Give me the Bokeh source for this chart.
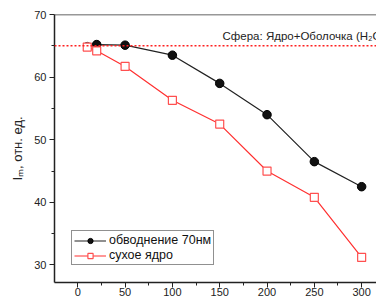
from bokeh.plotting import figure
from bokeh.models import Range1d, Span, Legend, LegendItem, FixedTicker
from bokeh.core.properties import value
from bokeh.embed import file_html
from bokeh.resources import INLINE

# data
x_wet = [10, 20, 50, 100, 150, 200, 250, 300]
y_wet = [65.0, 65.2, 65.1, 63.5, 59.0, 54.0, 46.5, 42.5]
x_dry = [10, 20, 50, 100, 150, 200, 250, 300]
y_dry = [64.8, 64.2, 61.7, 56.3, 52.5, 45.0, 40.8, 31.2]
ref_level = 65.0
label_wet = "обводнение 70нм"
label_dry = "сухое ядро"
note_text = "Сфера: Ядро+Оболочка (H\u2082O)"
x_ticks = [0, 50, 100, 150, 200, 250, 300]
y_ticks = [30, 40, 50, 60, 70]

FONT = "Liberation Sans"

p = figure(width=376, height=300, output_backend="svg", toolbar_location=None,
           x_range=Range1d(-24.6, 315.7), y_range=Range1d(27.2, 70),
           min_border_left=54, min_border_right=0, min_border_top=14, min_border_bottom=18)
p.outline_line_color = None
p.xgrid.visible = False
p.ygrid.visible = False
p.background_fill_color = "white"

# top border line
top = Span(location=70, dimension="width", line_color="#333333", line_width=1.5)
p.add_layout(top)

# dashed reference line
ref = Span(location=ref_level, dimension="width", line_color="#ff2020", line_width=1.5, line_dash="2 2")
p.add_layout(ref)

l1 = p.line(x_wet, y_wet, line_color="#222222", line_width=1.2)
c1 = p.scatter(x_wet[1:], y_wet[1:], size=8.5, marker="circle", fill_color="#111111", line_color="#000000")
c1b = p.scatter([x_wet[0]], [y_wet[0]], size=7, marker="circle", fill_color="#555555", line_color="#444444", fill_alpha=0.6)
l2 = p.line(x_dry, y_dry, line_color="#ff3030", line_width=1.2)
s2 = p.scatter(x_dry, y_dry, size=8, marker="square", fill_color="white", line_color="#ff5050", line_width=1.2)

p.text([153], [66.5], text=[note_text], text_font=value(FONT), text_font_size="11.5px",
       text_color="#222222", text_baseline="middle", text_align="left")

for ax in (p.xaxis[0], p.yaxis[0]):
    ax.axis_line_color = "#222222"
    ax.axis_line_width = 1.5
    ax.major_tick_line_color = "#222222"
    ax.minor_tick_line_color = "#222222"
    ax.major_tick_in = 0
    ax.major_tick_out = 5
    ax.minor_tick_in = 0
    ax.minor_tick_out = 3
    ax.major_label_text_font = FONT
    ax.major_label_text_font_size = "11px"
    ax.major_label_text_color = "#222222"

p.xaxis[0].ticker = FixedTicker(ticks=x_ticks, minor_ticks=[25, 75, 125, 175, 225, 275])
p.yaxis[0].ticker = FixedTicker(ticks=y_ticks, minor_ticks=[35, 45, 55, 65])
p.xaxis[0].major_label_standoff = 0
p.yaxis[0].major_label_standoff = 3
p.yaxis[0].axis_label = "I\u2098, отн. ед."
p.yaxis[0].axis_label_text_font = FONT
p.yaxis[0].axis_label_text_font_size = "13px"
p.yaxis[0].axis_label_text_font_style = "normal"
p.yaxis[0].axis_label_text_color = "#222222"
p.yaxis[0].axis_label_standoff = 6

legend = Legend(items=[LegendItem(label=label_wet, renderers=[l1, c1]),
                       LegendItem(label=label_dry, renderers=[l2, s2])],
                location="bottom_left")
legend.label_text_font = FONT
legend.label_text_font_size = "12.5px"
legend.label_text_color = "#111111"
legend.glyph_width = 32
legend.glyph_height = 13
legend.label_height = 13
legend.spacing = 1
legend.padding = 2
legend.margin = 17
legend.border_line_color = "#222222"
legend.border_line_width = 1
legend.label_standoff = 3
p.add_layout(legend)

open("out.html", "w").write(file_html(p, INLINE))
